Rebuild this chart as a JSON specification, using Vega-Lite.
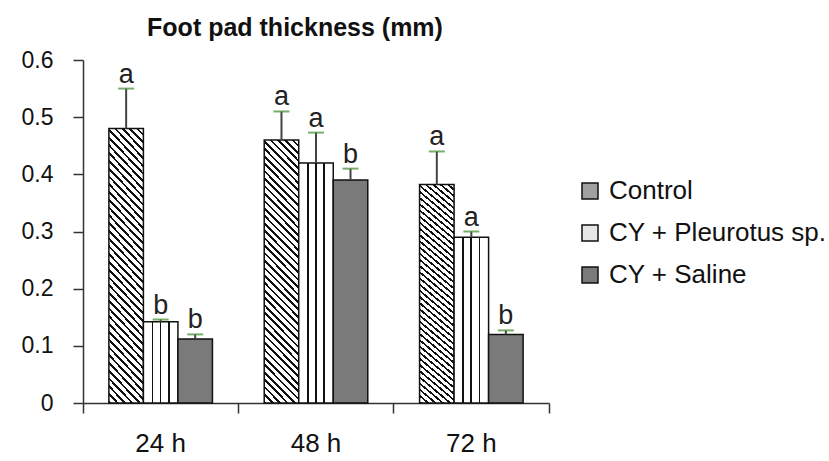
{
  "$schema": "https://vega.github.io/schema/vega-lite/v6.json",
  "autosize": {"type": "none"},
  "width": 466,
  "height": 343,
  "padding": {"left": 83, "top": 60, "right": 280, "bottom": 58},
  "background": "white",
  "title": {"text": "Foot pad thickness (mm)", "font": "Liberation Sans", "fontSize": 25, "fontWeight": "bold", "color": "#111", "anchor": "middle", "frame": "group", "dx": -21, "offset": -12, "baseline": "alphabetic"},
  "config": {"view": {"stroke": null}, "font": "Liberation Sans"},
  "data": {"values": [
    {"time": "24 h", "series": "Control", "mean": 0.48, "upper": 0.55, "letter": "a"},
    {"time": "24 h", "series": "CY + Pleurotus sp.", "mean": 0.142, "upper": 0.146, "letter": "b"},
    {"time": "24 h", "series": "CY + Saline", "mean": 0.112, "upper": 0.12, "letter": "b"},
    {"time": "48 h", "series": "Control", "mean": 0.46, "upper": 0.51, "letter": "a"},
    {"time": "48 h", "series": "CY + Pleurotus sp.", "mean": 0.42, "upper": 0.473, "letter": "a"},
    {"time": "48 h", "series": "CY + Saline", "mean": 0.39, "upper": 0.41, "letter": "b"},
    {"time": "72 h", "series": "Control", "mean": 0.382, "upper": 0.44, "letter": "a"},
    {"time": "72 h", "series": "CY + Pleurotus sp.", "mean": 0.29, "upper": 0.3, "letter": "a"},
    {"time": "72 h", "series": "CY + Saline", "mean": 0.12, "upper": 0.127, "letter": "b"}
  ]},
  "encoding": {
    "x": {"field": "time", "type": "nominal", "scale": {"paddingInner": 0, "paddingOuter": 0},
      "axis": {"title": null, "bandPosition": 1, "tickExtra": true, "domainColor": "#333", "domainWidth": 1.5, "tickColor": "#333", "tickWidth": 1.5, "tickSize": 10, "labelFontSize": 26, "labelColor": "#111", "labelPadding": 17, "labelAngle": 0}},
    "xOffset": {"field": "series", "type": "nominal", "sort": ["Control", "CY + Pleurotus sp.", "CY + Saline"], "scale": {"paddingInner": 0, "paddingOuter": 0.75}}
  },
  "layer": [
    {
      "mark": {"type": "bar", "stroke": "#111", "strokeWidth": 1.5},
      "encoding": {
        "y": {"field": "mean", "type": "quantitative", "title": null, "scale": {"domain": [0, 0.6], "nice": false},
          "axis": {"title": null, "values": [0, 0.1, 0.2, 0.3, 0.4, 0.5, 0.6], "format": "~g", "grid": false, "domainColor": "#333", "domainWidth": 1.5, "tickColor": "#333", "tickWidth": 1.5, "tickSize": 10, "labelFontSize": 23, "labelColor": "#111", "labelPadding": 20}},
        "fill": {"field": "series", "type": "nominal", "sort": ["Control", "CY + Pleurotus sp.", "CY + Saline"],
          "scale": {"domain": ["Control", "CY + Pleurotus sp.", "CY + Saline"], "range": ["#a0a0a0", "#e6e6e6", "#7a7a7a"]},
          "legend": {"title": null, "orient": "none", "legendX": 494, "legendY": 118, "symbolType": "square", "symbolSize": 256, "symbolStrokeColor": "#111", "symbolStrokeWidth": 1.5, "labelFontSize": 26, "labelColor": "#111", "labelOffset": 6, "rowPadding": 16, "padding": 0, "labelLimit": 400},
          "condition": [
            {"test": "datum.series === 'Control'", "value": {"gradient": "linear", "x1": 0, "y1": 1, "x2": 0.148, "y2": -0.113, "stops": [
              {"offset": 0, "color": "#111"}, {"offset": 0.009, "color": "#111"}, {"offset": 0.009, "color": "#fff"}, {"offset": 0.025, "color": "#fff"},
              {"offset": 0.025, "color": "#111"}, {"offset": 0.034, "color": "#111"}, {"offset": 0.034, "color": "#fff"}, {"offset": 0.05, "color": "#fff"},
              {"offset": 0.05, "color": "#111"}, {"offset": 0.059, "color": "#111"}, {"offset": 0.059, "color": "#fff"}, {"offset": 0.075, "color": "#fff"},
              {"offset": 0.075, "color": "#111"}, {"offset": 0.084, "color": "#111"}, {"offset": 0.084, "color": "#fff"}, {"offset": 0.1, "color": "#fff"},
              {"offset": 0.1, "color": "#111"}, {"offset": 0.109, "color": "#111"}, {"offset": 0.109, "color": "#fff"}, {"offset": 0.125, "color": "#fff"},
              {"offset": 0.125, "color": "#111"}, {"offset": 0.134, "color": "#111"}, {"offset": 0.134, "color": "#fff"}, {"offset": 0.15, "color": "#fff"},
              {"offset": 0.15, "color": "#111"}, {"offset": 0.159, "color": "#111"}, {"offset": 0.159, "color": "#fff"}, {"offset": 0.175, "color": "#fff"},
              {"offset": 0.175, "color": "#111"}, {"offset": 0.184, "color": "#111"}, {"offset": 0.184, "color": "#fff"}, {"offset": 0.2, "color": "#fff"},
              {"offset": 0.2, "color": "#111"}, {"offset": 0.209, "color": "#111"}, {"offset": 0.209, "color": "#fff"}, {"offset": 0.225, "color": "#fff"},
              {"offset": 0.225, "color": "#111"}, {"offset": 0.234, "color": "#111"}, {"offset": 0.234, "color": "#fff"}, {"offset": 0.25, "color": "#fff"},
              {"offset": 0.25, "color": "#111"}, {"offset": 0.259, "color": "#111"}, {"offset": 0.259, "color": "#fff"}, {"offset": 0.275, "color": "#fff"},
              {"offset": 0.275, "color": "#111"}, {"offset": 0.284, "color": "#111"}, {"offset": 0.284, "color": "#fff"}, {"offset": 0.3, "color": "#fff"},
              {"offset": 0.3, "color": "#111"}, {"offset": 0.309, "color": "#111"}, {"offset": 0.309, "color": "#fff"}, {"offset": 0.325, "color": "#fff"},
              {"offset": 0.325, "color": "#111"}, {"offset": 0.334, "color": "#111"}, {"offset": 0.334, "color": "#fff"}, {"offset": 0.35, "color": "#fff"},
              {"offset": 0.35, "color": "#111"}, {"offset": 0.359, "color": "#111"}, {"offset": 0.359, "color": "#fff"}, {"offset": 0.375, "color": "#fff"},
              {"offset": 0.375, "color": "#111"}, {"offset": 0.384, "color": "#111"}, {"offset": 0.384, "color": "#fff"}, {"offset": 0.4, "color": "#fff"},
              {"offset": 0.4, "color": "#111"}, {"offset": 0.409, "color": "#111"}, {"offset": 0.409, "color": "#fff"}, {"offset": 0.425, "color": "#fff"},
              {"offset": 0.425, "color": "#111"}, {"offset": 0.434, "color": "#111"}, {"offset": 0.434, "color": "#fff"}, {"offset": 0.45, "color": "#fff"},
              {"offset": 0.45, "color": "#111"}, {"offset": 0.459, "color": "#111"}, {"offset": 0.459, "color": "#fff"}, {"offset": 0.475, "color": "#fff"},
              {"offset": 0.475, "color": "#111"}, {"offset": 0.484, "color": "#111"}, {"offset": 0.484, "color": "#fff"}, {"offset": 0.5, "color": "#fff"},
              {"offset": 0.5, "color": "#111"}, {"offset": 0.509, "color": "#111"}, {"offset": 0.509, "color": "#fff"}, {"offset": 0.525, "color": "#fff"},
              {"offset": 0.525, "color": "#111"}, {"offset": 0.534, "color": "#111"}, {"offset": 0.534, "color": "#fff"}, {"offset": 0.55, "color": "#fff"},
              {"offset": 0.55, "color": "#111"}, {"offset": 0.559, "color": "#111"}, {"offset": 0.559, "color": "#fff"}, {"offset": 0.575, "color": "#fff"},
              {"offset": 0.575, "color": "#111"}, {"offset": 0.584, "color": "#111"}, {"offset": 0.584, "color": "#fff"}, {"offset": 0.6, "color": "#fff"},
              {"offset": 0.6, "color": "#111"}, {"offset": 0.609, "color": "#111"}, {"offset": 0.609, "color": "#fff"}, {"offset": 0.625, "color": "#fff"},
              {"offset": 0.625, "color": "#111"}, {"offset": 0.634, "color": "#111"}, {"offset": 0.634, "color": "#fff"}, {"offset": 0.65, "color": "#fff"},
              {"offset": 0.65, "color": "#111"}, {"offset": 0.659, "color": "#111"}, {"offset": 0.659, "color": "#fff"}, {"offset": 0.675, "color": "#fff"},
              {"offset": 0.675, "color": "#111"}, {"offset": 0.684, "color": "#111"}, {"offset": 0.684, "color": "#fff"}, {"offset": 0.7, "color": "#fff"},
              {"offset": 0.7, "color": "#111"}, {"offset": 0.709, "color": "#111"}, {"offset": 0.709, "color": "#fff"}, {"offset": 0.725, "color": "#fff"},
              {"offset": 0.725, "color": "#111"}, {"offset": 0.734, "color": "#111"}, {"offset": 0.734, "color": "#fff"}, {"offset": 0.75, "color": "#fff"},
              {"offset": 0.75, "color": "#111"}, {"offset": 0.759, "color": "#111"}, {"offset": 0.759, "color": "#fff"}, {"offset": 0.775, "color": "#fff"},
              {"offset": 0.775, "color": "#111"}, {"offset": 0.784, "color": "#111"}, {"offset": 0.784, "color": "#fff"}, {"offset": 0.8, "color": "#fff"},
              {"offset": 0.8, "color": "#111"}, {"offset": 0.809, "color": "#111"}, {"offset": 0.809, "color": "#fff"}, {"offset": 0.825, "color": "#fff"},
              {"offset": 0.825, "color": "#111"}, {"offset": 0.834, "color": "#111"}, {"offset": 0.834, "color": "#fff"}, {"offset": 0.85, "color": "#fff"},
              {"offset": 0.85, "color": "#111"}, {"offset": 0.859, "color": "#111"}, {"offset": 0.859, "color": "#fff"}, {"offset": 0.875, "color": "#fff"},
              {"offset": 0.875, "color": "#111"}, {"offset": 0.884, "color": "#111"}, {"offset": 0.884, "color": "#fff"}, {"offset": 0.9, "color": "#fff"},
              {"offset": 0.9, "color": "#111"}, {"offset": 0.909, "color": "#111"}, {"offset": 0.909, "color": "#fff"}, {"offset": 0.925, "color": "#fff"},
              {"offset": 0.925, "color": "#111"}, {"offset": 0.934, "color": "#111"}, {"offset": 0.934, "color": "#fff"}, {"offset": 0.95, "color": "#fff"},
              {"offset": 0.95, "color": "#111"}, {"offset": 0.959, "color": "#111"}, {"offset": 0.959, "color": "#fff"}, {"offset": 0.975, "color": "#fff"},
              {"offset": 0.975, "color": "#111"}, {"offset": 0.984, "color": "#111"}, {"offset": 0.984, "color": "#fff"}, {"offset": 1, "color": "#fff"}]}},
            {"test": "datum.series === 'CY + Pleurotus sp.'", "value": {"gradient": "linear", "x1": 0, "y1": 0, "x2": 1, "y2": 0, "stops": [
              {"offset": 0, "color": "#fff"}, {"offset": 0.24, "color": "#fff"}, {"offset": 0.24, "color": "#111"}, {"offset": 0.285, "color": "#111"}, {"offset": 0.285, "color": "#fff"},
              {"offset": 0.475, "color": "#fff"}, {"offset": 0.475, "color": "#111"}, {"offset": 0.52, "color": "#111"}, {"offset": 0.52, "color": "#fff"},
              {"offset": 0.715, "color": "#fff"}, {"offset": 0.715, "color": "#111"}, {"offset": 0.76, "color": "#111"}, {"offset": 0.76, "color": "#fff"}, {"offset": 1, "color": "#fff"}]}}
          ]}
      }
    },
    {
      "mark": {"type": "rule", "color": "#444", "strokeWidth": 2},
      "encoding": {"y": {"field": "mean", "type": "quantitative", "title": null}, "y2": {"field": "upper"}}
    },
    {
      "mark": {"type": "tick", "color": "#3d8c2a", "thickness": 2, "size": 16},
      "encoding": {"y": {"field": "upper", "type": "quantitative", "title": null}}
    },
    {
      "mark": {"type": "text", "fontSize": 27, "color": "#222", "baseline": "alphabetic", "dy": -6},
      "encoding": {"y": {"field": "upper", "type": "quantitative", "title": null}, "text": {"field": "letter"}}
    }
  ]
}
